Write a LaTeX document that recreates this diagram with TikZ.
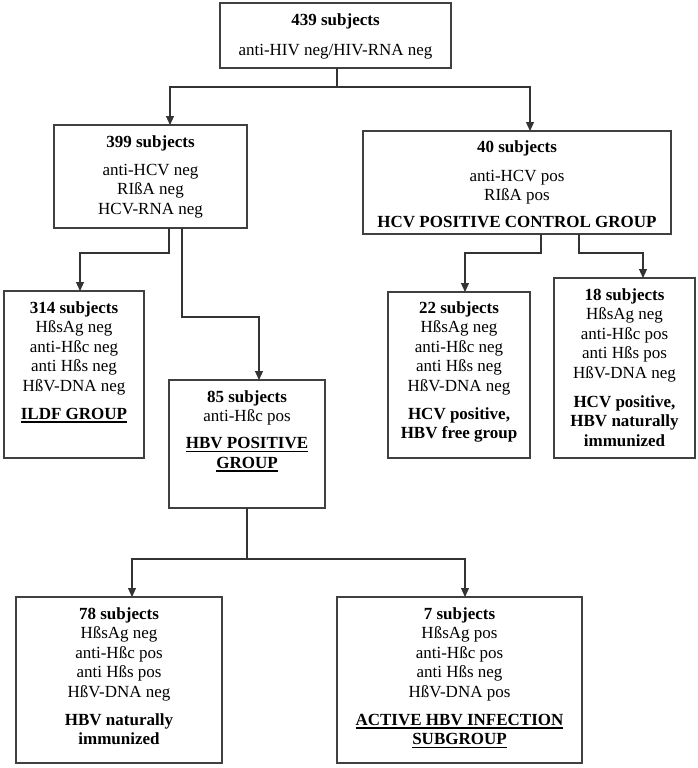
\documentclass[tikz,border=0pt]{standalone}
\usepackage{fontspec}
\setmainfont{Liberation Serif}
\usetikzlibrary{arrows.meta,calc}
\newcommand\myuline[1]{\leavevmode\sbox0{#1}\rlap{\rule[-3.5pt]{\wd0}{1.6pt}}\usebox0}
\newcommand\fl{\rule{0pt}{12pt}}
\begin{document}
\begin{tikzpicture}[x=1pt,y=-1pt,
  box/.style={draw=black!75, line width=1.2pt, inner sep=0pt, outer sep=0pt, anchor=north west},
  txt/.style={anchor=north, inner sep=0pt, align=center, font=\fontsize{17}{19.5}\selectfont},
  conn/.style={draw=black!80, line width=1.1pt},
  arr/.style={conn, -{Triangle[length=9pt,width=8pt]}}]
\useasboundingbox (0,0) rectangle (697,768);

% boxes
\node[box, minimum width=231pt, minimum height=65pt]  (b439) at (220,3) {};
\node[box, minimum width=193pt, minimum height=103pt] (b399) at (54,125) {};
\node[box, minimum width=308pt, minimum height=103pt] (b40)  at (363,131) {};
\node[box, minimum width=140pt, minimum height=167pt] (b314) at (4,291) {};
\node[box, minimum width=156pt, minimum height=128pt] (b85)  at (169,380) {};
\node[box, minimum width=142pt, minimum height=166pt] (b22)  at (388,292) {};
\node[box, minimum width=141pt, minimum height=180pt] (b18)  at (554,278) {};
\node[box, minimum width=206pt, minimum height=166pt] (b78)  at (16,597) {};
\node[box, minimum width=245pt, minimum height=166pt] (b7)   at (337,597) {};

% texts
\node[txt] (t439) at (335.5,13) {\fl\textbf{439 subjects}\\[10.5pt] anti-HIV neg/HIV-RNA neg};
\node[txt] (t399) at (150.5,135) {\fl\textbf{399 subjects}\\[8.5pt] anti-HCV neg\\ RIßA neg\\ HCV-RNA neg};
\node[txt] (t40) at (517,140) {\fl\textbf{40 subjects}\\[9.5pt] anti-HCV pos\\ RIßA pos\\[7.5pt] \textbf{HCV POSITIVE CONTROL GROUP}};
\node[txt] (t314) at (74,301) {\fl\textbf{314 subjects}\\ HßsAg neg\\ anti-Hßc neg\\ anti Hßs neg\\ HßV-DNA neg\\[8.5pt] \myuline{\textbf{ILDF GROUP}}};
\node[txt] (t85) at (247,390) {\fl\textbf{85 subjects}\\ anti-Hßc pos\\[7.5pt] \myuline{\textbf{HBV POSITIVE}}\\ \myuline{\textbf{GROUP}}};
\node[txt] (t22) at (459,301) {\fl\textbf{22 subjects}\\ HßsAg neg\\ anti-Hßc neg\\ anti Hßs neg\\ HßV-DNA neg\\[8.5pt] \textbf{HCV positive,}\\ \textbf{HBV free group}};
\node[txt] (t18) at (624.5,288) {\fl\textbf{18 subjects}\\ HßsAg neg\\ anti-Hßc pos\\ anti Hßs pos\\ HßV-DNA neg\\[9.5pt] \textbf{HCV positive,}\\ \textbf{HBV naturally}\\ \textbf{immunized}};
\node[txt] (t78) at (119,607) {\fl\textbf{78 subjects}\\ HßsAg neg\\ anti-Hßc pos\\ anti Hßs pos\\ HßV-DNA neg\\[8.5pt] \textbf{HBV naturally}\\ \textbf{immunized}};
\node[txt] (t7) at (459.5,607) {\fl\textbf{7 subjects}\\ HßsAg pos\\ anti-Hßc pos\\ anti Hßs neg\\ HßV-DNA pos\\[8.5pt] \myuline{\textbf{ACTIVE HBV INFECTION}}\\ \myuline{\textbf{SUBGROUP}}};

% helper coordinates
\coordinate (h0) at (0,87);
\coordinate (h1) at (0,253);
\coordinate (h2) at (0,317);
\coordinate (h3) at (0,559);
\coordinate (s439) at ([xshift=117pt]b439.south west);
\coordinate (t399) at ([xshift=116pt]b399.north west);
\coordinate (t40)  at ([xshift=167pt]b40.north west);
\coordinate (s399a) at ([xshift=115pt]b399.south west);
\coordinate (s399b) at ([xshift=128pt]b399.south west);
\coordinate (t314a) at ([xshift=76pt]b314.north west);
\coordinate (t85a)  at ([xshift=90pt]b85.north west);
\coordinate (s40a) at ([xshift=178pt]b40.south west);
\coordinate (s40b) at ([xshift=216pt]b40.south west);
\coordinate (t22a) at ([xshift=77pt]b22.north west);
\coordinate (t18a) at ([xshift=89pt]b18.north west);
\coordinate (s85) at ([xshift=78pt]b85.south west);
\coordinate (t78a) at ([xshift=116pt]b78.north west);
\coordinate (t7a)  at ([xshift=128pt]b7.north west);

% connectors
\draw[conn] (s439) -- (s439 |- h0);
\draw[arr] (s439 |- h0) -| (t399);
\draw[arr] (s439 |- h0) -| (t40);
\draw[arr] (s399a) -- (s399a |- h1) -| (t314a);
\draw[arr] (s399b) -- (s399b |- h2) -| (t85a);
\draw[arr] (s40a) -- (s40a |- h1) -| (t22a);
\draw[arr] (s40b) -- (s40b |- h1) -| (t18a);
\draw[conn] (s85) -- (s85 |- h3);
\draw[arr] (s85 |- h3) -| (t78a);
\draw[arr] (s85 |- h3) -| (t7a);
\end{tikzpicture}
\end{document}
